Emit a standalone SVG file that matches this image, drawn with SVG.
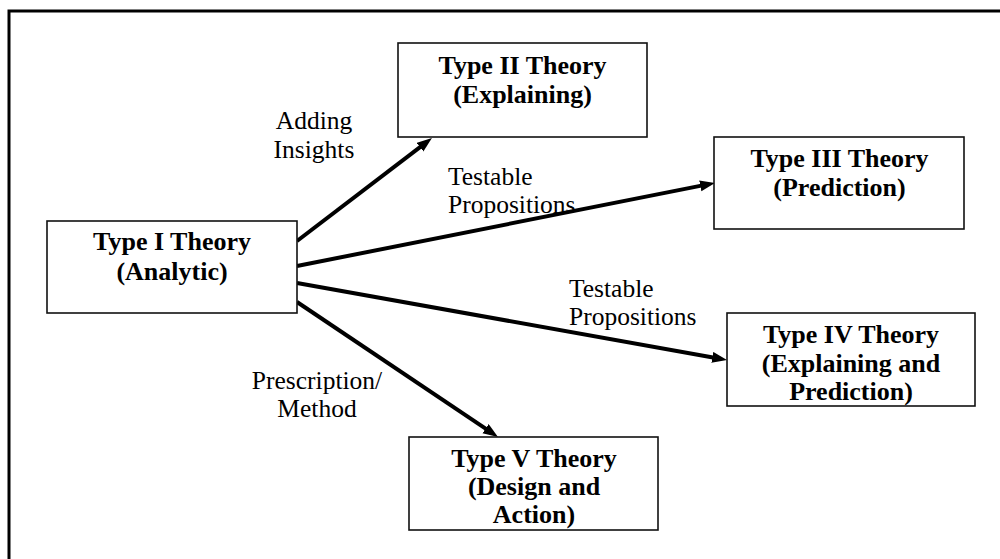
<svg xmlns="http://www.w3.org/2000/svg" width="1000" height="559" viewBox="0 0 1000 559">
<style>
.box{fill:#fff;stroke:#111;stroke-width:1.6}
.t{font-family:"Liberation Serif","Times New Roman",serif;font-size:26px;font-weight:bold;text-anchor:middle;fill:#000}
.l{font-family:"Liberation Serif","Times New Roman",serif;font-size:25.5px;fill:#000}
.c{stroke:#000;stroke-width:4;fill:none;marker-end:url(#ah)}
</style>
<defs>
<marker id="ah" markerUnits="userSpaceOnUse" markerWidth="16" markerHeight="12" refX="5" refY="5.5" orient="auto">
<path d="M0,0 L15,5.5 L0,11 z" fill="#000"/>
</marker>
</defs>
<rect width="1000" height="559" fill="#fff"/>
<path d="M9,559 V11 H1000" fill="none" stroke="#000" stroke-width="3"/>
<g id="connectors">
<line class="c" x1="297" y1="241" x2="424" y2="144.1"/>
<line class="c" x1="297" y1="266" x2="705.2" y2="184.9"/>
<line class="c" x1="297" y1="283" x2="717.2" y2="358.2"/>
<line class="c" x1="297" y1="302" x2="489.7" y2="431.4"/>
</g>
<g id="labels">
<text class="l" x="314" y="129" text-anchor="middle">Adding</text>
<text class="l" x="314" y="158" text-anchor="middle">Insights</text>
<text class="l" x="448" y="185">Testable</text>
<text class="l" x="448" y="213">Propositions</text>
<text class="l" x="569" y="297">Testable</text>
<text class="l" x="569" y="325">Propositions</text>
<text class="l" x="317" y="389" text-anchor="middle">Prescription/</text>
<text class="l" x="317" y="417" text-anchor="middle">Method</text>
</g>
<g id="type1">
<rect class="box" x="47" y="221" width="250" height="92"/>
<text class="t" x="172" y="250">Type I Theory</text>
<text class="t" x="172" y="280">(Analytic)</text>
</g>
<g id="type2">
<rect class="box" x="398" y="43" width="249" height="94"/>
<text class="t" x="522.5" y="74">Type II Theory</text>
<text class="t" x="522.5" y="103">(Explaining)</text>
</g>
<g id="type3">
<rect class="box" x="714" y="137" width="250" height="92"/>
<text class="t" x="839.5" y="167">Type III Theory</text>
<text class="t" x="839.5" y="196">(Prediction)</text>
</g>
<g id="type4">
<rect class="box" x="727" y="313" width="248" height="93"/>
<text class="t" x="851" y="343">Type IV Theory</text>
<text class="t" x="851" y="372">(Explaining and</text>
<text class="t" x="851" y="400">Prediction)</text>
</g>
<g id="type5">
<rect class="box" x="409" y="437" width="249" height="93"/>
<text class="t" x="534" y="467">Type V Theory</text>
<text class="t" x="534" y="495">(Design and</text>
<text class="t" x="534" y="523">Action)</text>
</g>
</svg>
